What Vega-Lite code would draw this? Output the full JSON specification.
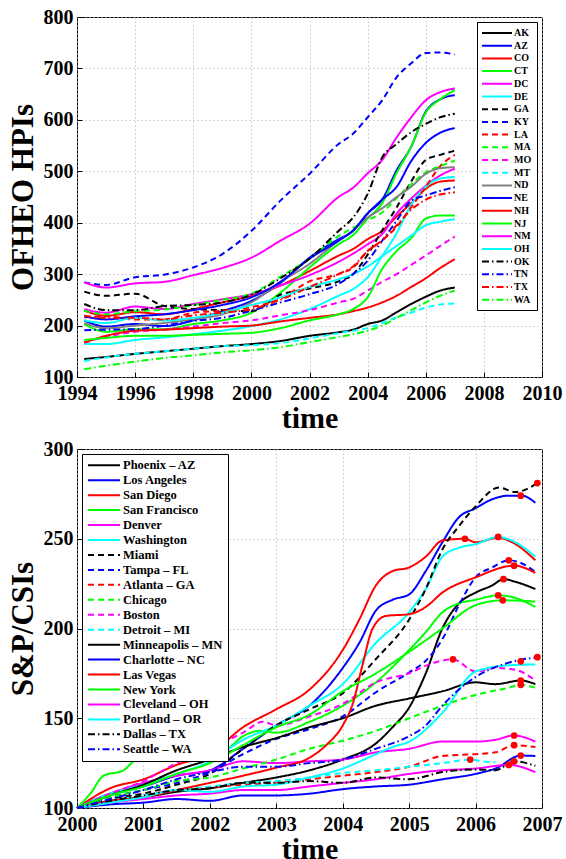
{
"$schema":"https://vega.github.io/schema/vega-lite/v6.json",
"background":"white",
"padding":{"left":6,"top":6,"right":5,"bottom":0},
"config":{
 "font":"Liberation Serif",
 "view":{"stroke":"black","strokeWidth":1},
 "axis":{"labelFont":"Liberation Serif","labelFontSize":20,"labelFontWeight":"bold","labelColor":"black","labelFlush":false,"labelOverlap":false,"titleFont":"Liberation Serif","titleFontWeight":"bold","titleColor":"black","grid":true,"gridColor":"#aaaaaa","gridDash":[1,3],"gridOpacity":1,"domain":false,"ticks":true,"tickSize":-5,"tickColor":"black","tickWidth":1},
 "axisX":{"labelPadding":11,"titleFontSize":30,"titlePadding":0},
 "axisY":{"labelPadding":9,"titleFontSize":31,"titlePadding":4},
 "legend":{"title":null,"strokeColor":"black","fillColor":"white","padding":5,"labelFont":"Liberation Serif","labelFontWeight":"bold","labelColor":"black"}
},
"datasets":{
"hpi":[
{"s":"AK","t":1994.25,"v":135},{"s":"AK","t":1995,"v":139},{"s":"AK","t":1996,"v":145},{"s":"AK","t":1997,"v":150},{"s":"AK","t":1998,"v":155},{"s":"AK","t":1999,"v":160},{"s":"AK","t":2000,"v":164},{"s":"AK","t":2001,"v":170},{"s":"AK","t":2002,"v":180},{"s":"AK","t":2003,"v":187},{"s":"AK","t":2003.5,"v":192},{"s":"AK","t":2004,"v":203},{"s":"AK","t":2004.5,"v":210},{"s":"AK","t":2005,"v":226},{"s":"AK","t":2005.5,"v":242},{"s":"AK","t":2006,"v":256},{"s":"AK","t":2006.5,"v":268},{"s":"AK","t":2007,"v":274},
{"s":"AZ","t":1994.25,"v":210},{"s":"AZ","t":1995,"v":198},{"s":"AZ","t":1996,"v":203},{"s":"AZ","t":1997,"v":199},{"s":"AZ","t":1998,"v":210},{"s":"AZ","t":1999,"v":228},{"s":"AZ","t":2000,"v":248},{"s":"AZ","t":2001,"v":283},{"s":"AZ","t":2002,"v":332},{"s":"AZ","t":2003,"v":368},{"s":"AZ","t":2003.5,"v":384},{"s":"AZ","t":2004,"v":418},{"s":"AZ","t":2004.5,"v":445},{"s":"AZ","t":2005,"v":502},{"s":"AZ","t":2005.5,"v":548},{"s":"AZ","t":2006,"v":616},{"s":"AZ","t":2006.5,"v":640},{"s":"AZ","t":2007,"v":648},
{"s":"CO","t":1994.25,"v":229},{"s":"CO","t":1995,"v":219},{"s":"CO","t":1996,"v":226},{"s":"CO","t":1997,"v":222},{"s":"CO","t":1998,"v":232},{"s":"CO","t":1999,"v":245},{"s":"CO","t":2000,"v":258},{"s":"CO","t":2001,"v":278},{"s":"CO","t":2002,"v":306},{"s":"CO","t":2003,"v":336},{"s":"CO","t":2003.5,"v":349},{"s":"CO","t":2004,"v":368},{"s":"CO","t":2004.5,"v":384},{"s":"CO","t":2005,"v":412},{"s":"CO","t":2005.5,"v":438},{"s":"CO","t":2006,"v":466},{"s":"CO","t":2006.5,"v":480},{"s":"CO","t":2007,"v":482},
{"s":"CT","t":1994.25,"v":203},{"s":"CT","t":1995,"v":188},{"s":"CT","t":1996,"v":193},{"s":"CT","t":1997,"v":193},{"s":"CT","t":1998,"v":203},{"s":"CT","t":1999,"v":210},{"s":"CT","t":2000,"v":225},{"s":"CT","t":2001,"v":264},{"s":"CT","t":2002,"v":313},{"s":"CT","t":2003,"v":358},{"s":"CT","t":2003.5,"v":376},{"s":"CT","t":2004,"v":408},{"s":"CT","t":2004.5,"v":438},{"s":"CT","t":2005,"v":497},{"s":"CT","t":2005.5,"v":548},{"s":"CT","t":2006,"v":614},{"s":"CT","t":2006.5,"v":640},{"s":"CT","t":2007,"v":658},
{"s":"DC","t":1994.25,"v":232},{"s":"DC","t":1995,"v":225},{"s":"DC","t":1996,"v":237},{"s":"DC","t":1997,"v":232},{"s":"DC","t":1998,"v":242},{"s":"DC","t":1999,"v":251},{"s":"DC","t":2000,"v":261},{"s":"DC","t":2001,"v":278},{"s":"DC","t":2002,"v":298},{"s":"DC","t":2003,"v":324},{"s":"DC","t":2003.5,"v":340},{"s":"DC","t":2004,"v":358},{"s":"DC","t":2004.5,"v":378},{"s":"DC","t":2005,"v":418},{"s":"DC","t":2005.5,"v":447},{"s":"DC","t":2006,"v":472},{"s":"DC","t":2006.5,"v":492},{"s":"DC","t":2007,"v":505},
{"s":"DE","t":1994.25,"v":164},{"s":"DE","t":1995,"v":164},{"s":"DE","t":1996,"v":172},{"s":"DE","t":1997,"v":177},{"s":"DE","t":1998,"v":183},{"s":"DE","t":1999,"v":190},{"s":"DE","t":2000,"v":199},{"s":"DE","t":2001,"v":212},{"s":"DE","t":2002,"v":232},{"s":"DE","t":2003,"v":258},{"s":"DE","t":2003.5,"v":271},{"s":"DE","t":2004,"v":294},{"s":"DE","t":2004.5,"v":335},{"s":"DE","t":2005,"v":380},{"s":"DE","t":2005.5,"v":435},{"s":"DE","t":2006,"v":470},{"s":"DE","t":2006.5,"v":486},{"s":"DE","t":2007,"v":489},
{"s":"GA","t":1994.25,"v":266},{"s":"GA","t":1995,"v":258},{"s":"GA","t":1996,"v":262},{"s":"GA","t":1997,"v":238},{"s":"GA","t":1998,"v":232},{"s":"GA","t":1999,"v":230},{"s":"GA","t":2000,"v":228},{"s":"GA","t":2001,"v":260},{"s":"GA","t":2002,"v":272},{"s":"GA","t":2003,"v":286},{"s":"GA","t":2003.5,"v":300},{"s":"GA","t":2004,"v":338},{"s":"GA","t":2004.5,"v":385},{"s":"GA","t":2005,"v":430},{"s":"GA","t":2005.5,"v":480},{"s":"GA","t":2006,"v":522},{"s":"GA","t":2006.5,"v":532},{"s":"GA","t":2007,"v":540},
{"s":"KY","t":1994.25,"v":284},{"s":"KY","t":1995,"v":279},{"s":"KY","t":1996,"v":294},{"s":"KY","t":1997,"v":299},{"s":"KY","t":1998,"v":313},{"s":"KY","t":1999,"v":339},{"s":"KY","t":2000,"v":384},{"s":"KY","t":2001,"v":443},{"s":"KY","t":2002,"v":495},{"s":"KY","t":2003,"v":553},{"s":"KY","t":2003.5,"v":573},{"s":"KY","t":2004,"v":605},{"s":"KY","t":2004.5,"v":638},{"s":"KY","t":2005,"v":683},{"s":"KY","t":2005.5,"v":710},{"s":"KY","t":2006,"v":730},{"s":"KY","t":2006.5,"v":731},{"s":"KY","t":2007,"v":727},
{"s":"LA","t":1994.25,"v":216},{"s":"LA","t":1995,"v":218},{"s":"LA","t":1996,"v":212},{"s":"LA","t":1997,"v":212},{"s":"LA","t":1998,"v":225},{"s":"LA","t":1999,"v":229},{"s":"LA","t":2000,"v":236},{"s":"LA","t":2001,"v":252},{"s":"LA","t":2002,"v":286},{"s":"LA","t":2003,"v":300},{"s":"LA","t":2003.5,"v":313},{"s":"LA","t":2004,"v":345},{"s":"LA","t":2004.5,"v":366},{"s":"LA","t":2005,"v":392},{"s":"LA","t":2005.5,"v":430},{"s":"LA","t":2006,"v":470},{"s":"LA","t":2006.5,"v":510},{"s":"LA","t":2007,"v":532},
{"s":"MA","t":1994.25,"v":229},{"s":"MA","t":1995,"v":222},{"s":"MA","t":1996,"v":228},{"s":"MA","t":1997,"v":231},{"s":"MA","t":1998,"v":240},{"s":"MA","t":1999,"v":250},{"s":"MA","t":2000,"v":262},{"s":"MA","t":2001,"v":295},{"s":"MA","t":2002,"v":330},{"s":"MA","t":2003,"v":374},{"s":"MA","t":2003.5,"v":390},{"s":"MA","t":2004,"v":405},{"s":"MA","t":2004.5,"v":420},{"s":"MA","t":2005,"v":448},{"s":"MA","t":2005.5,"v":475},{"s":"MA","t":2006,"v":498},{"s":"MA","t":2006.5,"v":510},{"s":"MA","t":2007,"v":521},
{"s":"MO","t":1994.25,"v":167},{"s":"MO","t":1995,"v":178},{"s":"MO","t":1996,"v":188},{"s":"MO","t":1997,"v":192},{"s":"MO","t":1998,"v":198},{"s":"MO","t":1999,"v":205},{"s":"MO","t":2000,"v":210},{"s":"MO","t":2001,"v":220},{"s":"MO","t":2002,"v":230},{"s":"MO","t":2003,"v":245},{"s":"MO","t":2003.5,"v":252},{"s":"MO","t":2004,"v":268},{"s":"MO","t":2004.5,"v":285},{"s":"MO","t":2005,"v":300},{"s":"MO","t":2005.5,"v":318},{"s":"MO","t":2006,"v":336},{"s":"MO","t":2006.5,"v":355},{"s":"MO","t":2007,"v":373},
{"s":"MT","t":1994.25,"v":131},{"s":"MT","t":1995,"v":138},{"s":"MT","t":1996,"v":145},{"s":"MT","t":1997,"v":150},{"s":"MT","t":1998,"v":155},{"s":"MT","t":1999,"v":160},{"s":"MT","t":2000,"v":162},{"s":"MT","t":2001,"v":166},{"s":"MT","t":2002,"v":175},{"s":"MT","t":2003,"v":185},{"s":"MT","t":2003.5,"v":190},{"s":"MT","t":2004,"v":195},{"s":"MT","t":2004.5,"v":205},{"s":"MT","t":2005,"v":216},{"s":"MT","t":2005.5,"v":225},{"s":"MT","t":2006,"v":235},{"s":"MT","t":2006.5,"v":241},{"s":"MT","t":2007,"v":243},
{"s":"ND","t":1994.25,"v":205},{"s":"ND","t":1995,"v":195},{"s":"ND","t":1996,"v":200},{"s":"ND","t":1997,"v":205},{"s":"ND","t":1998,"v":212},{"s":"ND","t":1999,"v":222},{"s":"ND","t":2000,"v":245},{"s":"ND","t":2001,"v":285},{"s":"ND","t":2002,"v":320},{"s":"ND","t":2003,"v":365},{"s":"ND","t":2003.5,"v":385},{"s":"ND","t":2004,"v":410},{"s":"ND","t":2004.5,"v":428},{"s":"ND","t":2005,"v":450},{"s":"ND","t":2005.5,"v":470},{"s":"ND","t":2006,"v":495},{"s":"ND","t":2006.5,"v":506},{"s":"ND","t":2007,"v":508},
{"s":"NE","t":1994.25,"v":218},{"s":"NE","t":1995,"v":212},{"s":"NE","t":1996,"v":218},{"s":"NE","t":1997,"v":222},{"s":"NE","t":1998,"v":230},{"s":"NE","t":1999,"v":240},{"s":"NE","t":2000,"v":255},{"s":"NE","t":2001,"v":285},{"s":"NE","t":2002,"v":330},{"s":"NE","t":2003,"v":365},{"s":"NE","t":2003.5,"v":385},{"s":"NE","t":2004,"v":418},{"s":"NE","t":2004.5,"v":445},{"s":"NE","t":2005,"v":470},{"s":"NE","t":2005.5,"v":520},{"s":"NE","t":2006,"v":555},{"s":"NE","t":2006.5,"v":575},{"s":"NE","t":2007,"v":584},
{"s":"NH","t":1994.25,"v":167},{"s":"NH","t":1995,"v":180},{"s":"NH","t":1996,"v":190},{"s":"NH","t":1997,"v":192},{"s":"NH","t":1998,"v":195},{"s":"NH","t":1999,"v":198},{"s":"NH","t":2000,"v":200},{"s":"NH","t":2001,"v":208},{"s":"NH","t":2002,"v":215},{"s":"NH","t":2003,"v":222},{"s":"NH","t":2003.5,"v":228},{"s":"NH","t":2004,"v":235},{"s":"NH","t":2004.5,"v":245},{"s":"NH","t":2005,"v":258},{"s":"NH","t":2005.5,"v":275},{"s":"NH","t":2006,"v":292},{"s":"NH","t":2006.5,"v":312},{"s":"NH","t":2007,"v":329},
{"s":"NJ","t":1994.25,"v":172},{"s":"NJ","t":1995,"v":176},{"s":"NJ","t":1996,"v":180},{"s":"NJ","t":1997,"v":180},{"s":"NJ","t":1998,"v":182},{"s":"NJ","t":1999,"v":184},{"s":"NJ","t":2000,"v":186},{"s":"NJ","t":2001,"v":195},{"s":"NJ","t":2002,"v":210},{"s":"NJ","t":2003,"v":222},{"s":"NJ","t":2003.5,"v":232},{"s":"NJ","t":2004,"v":255},{"s":"NJ","t":2004.5,"v":310},{"s":"NJ","t":2005,"v":345},{"s":"NJ","t":2005.5,"v":370},{"s":"NJ","t":2006,"v":408},{"s":"NJ","t":2006.5,"v":414},{"s":"NJ","t":2007,"v":414},
{"s":"NM","t":1994.25,"v":284},{"s":"NM","t":1995,"v":274},{"s":"NM","t":1996,"v":282},{"s":"NM","t":1997,"v":285},{"s":"NM","t":1998,"v":298},{"s":"NM","t":1999,"v":312},{"s":"NM","t":2000,"v":332},{"s":"NM","t":2001,"v":365},{"s":"NM","t":2002,"v":398},{"s":"NM","t":2003,"v":450},{"s":"NM","t":2003.5,"v":468},{"s":"NM","t":2004,"v":496},{"s":"NM","t":2004.5,"v":522},{"s":"NM","t":2005,"v":566},{"s":"NM","t":2005.5,"v":605},{"s":"NM","t":2006,"v":638},{"s":"NM","t":2006.5,"v":654},{"s":"NM","t":2007,"v":661},
{"s":"OH","t":1994.25,"v":210},{"s":"OH","t":1995,"v":205},{"s":"OH","t":1996,"v":215},{"s":"OH","t":1997,"v":210},{"s":"OH","t":1998,"v":215},{"s":"OH","t":1999,"v":225},{"s":"OH","t":2000,"v":240},{"s":"OH","t":2001,"v":255},{"s":"OH","t":2002,"v":275},{"s":"OH","t":2003,"v":290},{"s":"OH","t":2003.5,"v":300},{"s":"OH","t":2004,"v":315},{"s":"OH","t":2004.5,"v":335},{"s":"OH","t":2005,"v":355},{"s":"OH","t":2005.5,"v":375},{"s":"OH","t":2006,"v":395},{"s":"OH","t":2006.5,"v":402},{"s":"OH","t":2007,"v":407},
{"s":"OK","t":1994.25,"v":242},{"s":"OK","t":1995,"v":230},{"s":"OK","t":1996,"v":230},{"s":"OK","t":1997,"v":238},{"s":"OK","t":1998,"v":240},{"s":"OK","t":1999,"v":245},{"s":"OK","t":2000,"v":260},{"s":"OK","t":2001,"v":292},{"s":"OK","t":2002,"v":330},{"s":"OK","t":2003,"v":384},{"s":"OK","t":2003.5,"v":410},{"s":"OK","t":2004,"v":456},{"s":"OK","t":2004.5,"v":527},{"s":"OK","t":2005,"v":553},{"s":"OK","t":2005.5,"v":576},{"s":"OK","t":2006,"v":592},{"s":"OK","t":2006.5,"v":605},{"s":"OK","t":2007,"v":612},
{"s":"TN","t":1994.25,"v":191},{"s":"TN","t":1995,"v":192},{"s":"TN","t":1996,"v":193},{"s":"TN","t":1997,"v":200},{"s":"TN","t":1998,"v":209},{"s":"TN","t":1999,"v":215},{"s":"TN","t":2000,"v":229},{"s":"TN","t":2001,"v":245},{"s":"TN","t":2002,"v":261},{"s":"TN","t":2003,"v":281},{"s":"TN","t":2003.5,"v":300},{"s":"TN","t":2004,"v":326},{"s":"TN","t":2004.5,"v":365},{"s":"TN","t":2005,"v":404},{"s":"TN","t":2005.5,"v":443},{"s":"TN","t":2006,"v":453},{"s":"TN","t":2006.5,"v":462},{"s":"TN","t":2007,"v":469},
{"s":"TX","t":1994.25,"v":219},{"s":"TX","t":1995,"v":215},{"s":"TX","t":1996,"v":215},{"s":"TX","t":1997,"v":212},{"s":"TX","t":1998,"v":220},{"s":"TX","t":1999,"v":225},{"s":"TX","t":2000,"v":232},{"s":"TX","t":2001,"v":250},{"s":"TX","t":2002,"v":275},{"s":"TX","t":2003,"v":300},{"s":"TX","t":2003.5,"v":315},{"s":"TX","t":2004,"v":345},{"s":"TX","t":2004.5,"v":365},{"s":"TX","t":2005,"v":395},{"s":"TX","t":2005.5,"v":425},{"s":"TX","t":2006,"v":445},{"s":"TX","t":2006.5,"v":455},{"s":"TX","t":2007,"v":459},
{"s":"WA","t":1994.25,"v":115},{"s":"WA","t":1995,"v":122},{"s":"WA","t":1996,"v":130},{"s":"WA","t":1997,"v":137},{"s":"WA","t":1998,"v":142},{"s":"WA","t":1999,"v":148},{"s":"WA","t":2000,"v":152},{"s":"WA","t":2001,"v":158},{"s":"WA","t":2002,"v":168},{"s":"WA","t":2003,"v":178},{"s":"WA","t":2003.5,"v":183},{"s":"WA","t":2004,"v":190},{"s":"WA","t":2004.5,"v":200},{"s":"WA","t":2005,"v":215},{"s":"WA","t":2005.5,"v":230},{"s":"WA","t":2006,"v":245},{"s":"WA","t":2006.5,"v":258},{"s":"WA","t":2007,"v":268}
],
"csi":[
{"s":"Phoenix – AZ","t":2000,"v":100},{"s":"Phoenix – AZ","t":2000.5,"v":104},{"s":"Phoenix – AZ","t":2001,"v":106},{"s":"Phoenix – AZ","t":2001.5,"v":109},{"s":"Phoenix – AZ","t":2002,"v":111},{"s":"Phoenix – AZ","t":2002.5,"v":114},{"s":"Phoenix – AZ","t":2003,"v":117},{"s":"Phoenix – AZ","t":2003.5,"v":121},{"s":"Phoenix – AZ","t":2004,"v":127},{"s":"Phoenix – AZ","t":2004.5,"v":136},{"s":"Phoenix – AZ","t":2004.75,"v":145},{"s":"Phoenix – AZ","t":2005,"v":156},{"s":"Phoenix – AZ","t":2005.25,"v":175},{"s":"Phoenix – AZ","t":2005.5,"v":200},{"s":"Phoenix – AZ","t":2005.75,"v":214},{"s":"Phoenix – AZ","t":2006,"v":220},{"s":"Phoenix – AZ","t":2006.25,"v":224},{"s":"Phoenix – AZ","t":2006.42,"v":227.5},{"s":"Phoenix – AZ","t":2006.6,"v":226},{"s":"Phoenix – AZ","t":2006.9,"v":222},
{"s":"Los Angeles","t":2000,"v":100},{"s":"Los Angeles","t":2000.5,"v":108},{"s":"Los Angeles","t":2001,"v":112},{"s":"Los Angeles","t":2001.5,"v":118},{"s":"Los Angeles","t":2002,"v":121},{"s":"Los Angeles","t":2002.5,"v":133},{"s":"Los Angeles","t":2003,"v":146},{"s":"Los Angeles","t":2003.5,"v":157},{"s":"Los Angeles","t":2004,"v":178},{"s":"Los Angeles","t":2004.25,"v":192},{"s":"Los Angeles","t":2004.5,"v":210},{"s":"Los Angeles","t":2004.75,"v":216},{"s":"Los Angeles","t":2005,"v":219},{"s":"Los Angeles","t":2005.25,"v":232},{"s":"Los Angeles","t":2005.5,"v":248},{"s":"Los Angeles","t":2005.75,"v":262},{"s":"Los Angeles","t":2006,"v":267},{"s":"Los Angeles","t":2006.25,"v":272},{"s":"Los Angeles","t":2006.5,"v":274},{"s":"Los Angeles","t":2006.7,"v":274},{"s":"Los Angeles","t":2006.9,"v":270},
{"s":"San Diego","t":2000,"v":100},{"s":"San Diego","t":2000.5,"v":111},{"s":"San Diego","t":2001,"v":116},{"s":"San Diego","t":2001.5,"v":124},{"s":"San Diego","t":2002,"v":130},{"s":"San Diego","t":2002.5,"v":145},{"s":"San Diego","t":2003,"v":155},{"s":"San Diego","t":2003.5,"v":166},{"s":"San Diego","t":2004,"v":188},{"s":"San Diego","t":2004.25,"v":205},{"s":"San Diego","t":2004.5,"v":224},{"s":"San Diego","t":2004.75,"v":232},{"s":"San Diego","t":2005,"v":234},{"s":"San Diego","t":2005.25,"v":240},{"s":"San Diego","t":2005.5,"v":249},{"s":"San Diego","t":2005.84,"v":250},{"s":"San Diego","t":2006,"v":248},{"s":"San Diego","t":2006.34,"v":250.5},{"s":"San Diego","t":2006.6,"v":247},{"s":"San Diego","t":2006.9,"v":238},
{"s":"San Francisco","t":2000,"v":100},{"s":"San Francisco","t":2000.2,"v":108},{"s":"San Francisco","t":2000.4,"v":118},{"s":"San Francisco","t":2000.7,"v":121},{"s":"San Francisco","t":2000.9,"v":127},{"s":"San Francisco","t":2001.5,"v":130},{"s":"San Francisco","t":2002.25,"v":133},{"s":"San Francisco","t":2002.5,"v":140},{"s":"San Francisco","t":2002.75,"v":143},{"s":"San Francisco","t":2003,"v":142},{"s":"San Francisco","t":2003.5,"v":148},{"s":"San Francisco","t":2004,"v":157},{"s":"San Francisco","t":2004.5,"v":170},{"s":"San Francisco","t":2005,"v":188},{"s":"San Francisco","t":2005.25,"v":198},{"s":"San Francisco","t":2005.5,"v":209},{"s":"San Francisco","t":2005.75,"v":214},{"s":"San Francisco","t":2006,"v":216},{"s":"San Francisco","t":2006.34,"v":218.5},{"s":"San Francisco","t":2006.6,"v":217},{"s":"San Francisco","t":2006.9,"v":212},
{"s":"Denver","t":2000,"v":100},{"s":"Denver","t":2000.5,"v":108},{"s":"Denver","t":2001,"v":114},{"s":"Denver","t":2001.5,"v":118},{"s":"Denver","t":2002,"v":121},{"s":"Denver","t":2002.5,"v":126},{"s":"Denver","t":2003,"v":125},{"s":"Denver","t":2003.5,"v":126},{"s":"Denver","t":2004,"v":127},{"s":"Denver","t":2004.5,"v":131},{"s":"Denver","t":2005,"v":133},{"s":"Denver","t":2005.5,"v":137},{"s":"Denver","t":2006,"v":137},{"s":"Denver","t":2006.3,"v":138},{"s":"Denver","t":2006.58,"v":140.4},{"s":"Denver","t":2006.9,"v":137},
{"s":"Washington","t":2000,"v":100},{"s":"Washington","t":2000.5,"v":108},{"s":"Washington","t":2001,"v":113},{"s":"Washington","t":2001.5,"v":119},{"s":"Washington","t":2002,"v":126},{"s":"Washington","t":2002.5,"v":138},{"s":"Washington","t":2003,"v":146},{"s":"Washington","t":2003.5,"v":157},{"s":"Washington","t":2004,"v":169},{"s":"Washington","t":2004.5,"v":192},{"s":"Washington","t":2005,"v":209},{"s":"Washington","t":2005.25,"v":222},{"s":"Washington","t":2005.5,"v":240},{"s":"Washington","t":2005.75,"v":245},{"s":"Washington","t":2006,"v":247},{"s":"Washington","t":2006.34,"v":251},{"s":"Washington","t":2006.6,"v":248},{"s":"Washington","t":2006.9,"v":240},
{"s":"Miami","t":2000,"v":100},{"s":"Miami","t":2000.5,"v":105},{"s":"Miami","t":2001,"v":108},{"s":"Miami","t":2001.5,"v":113},{"s":"Miami","t":2002,"v":119},{"s":"Miami","t":2002.5,"v":133},{"s":"Miami","t":2003,"v":146},{"s":"Miami","t":2003.5,"v":155},{"s":"Miami","t":2004,"v":164},{"s":"Miami","t":2004.5,"v":183},{"s":"Miami","t":2005,"v":205},{"s":"Miami","t":2005.25,"v":222},{"s":"Miami","t":2005.5,"v":244},{"s":"Miami","t":2005.75,"v":257},{"s":"Miami","t":2006,"v":268},{"s":"Miami","t":2006.35,"v":278.5},{"s":"Miami","t":2006.6,"v":276},{"s":"Miami","t":2006.93,"v":281},
{"s":"Tampa – FL","t":2000,"v":100},{"s":"Tampa – FL","t":2000.5,"v":106},{"s":"Tampa – FL","t":2001,"v":110},{"s":"Tampa – FL","t":2001.5,"v":114},{"s":"Tampa – FL","t":2002,"v":120},{"s":"Tampa – FL","t":2002.5,"v":130},{"s":"Tampa – FL","t":2003,"v":138.5},{"s":"Tampa – FL","t":2003.5,"v":144},{"s":"Tampa – FL","t":2004,"v":151},{"s":"Tampa – FL","t":2004.5,"v":164.5},{"s":"Tampa – FL","t":2005,"v":175.5},{"s":"Tampa – FL","t":2005.25,"v":182},{"s":"Tampa – FL","t":2005.5,"v":194},{"s":"Tampa – FL","t":2005.75,"v":213},{"s":"Tampa – FL","t":2006,"v":228.5},{"s":"Tampa – FL","t":2006.25,"v":234},{"s":"Tampa – FL","t":2006.5,"v":238},{"s":"Tampa – FL","t":2006.65,"v":237},{"s":"Tampa – FL","t":2006.9,"v":231.5},
{"s":"Atlanta – GA","t":2000,"v":100},{"s":"Atlanta – GA","t":2000.5,"v":104},{"s":"Atlanta – GA","t":2001,"v":107},{"s":"Atlanta – GA","t":2001.5,"v":110},{"s":"Atlanta – GA","t":2002,"v":111.5},{"s":"Atlanta – GA","t":2002.5,"v":113},{"s":"Atlanta – GA","t":2003,"v":114},{"s":"Atlanta – GA","t":2003.5,"v":116},{"s":"Atlanta – GA","t":2004,"v":118},{"s":"Atlanta – GA","t":2004.5,"v":120},{"s":"Atlanta – GA","t":2005,"v":123},{"s":"Atlanta – GA","t":2005.5,"v":129},{"s":"Atlanta – GA","t":2006,"v":130},{"s":"Atlanta – GA","t":2006.3,"v":131},{"s":"Atlanta – GA","t":2006.58,"v":135},{"s":"Atlanta – GA","t":2006.9,"v":134},
{"s":"Chicago","t":2000,"v":100},{"s":"Chicago","t":2000.5,"v":106},{"s":"Chicago","t":2001,"v":110},{"s":"Chicago","t":2001.5,"v":115},{"s":"Chicago","t":2002,"v":117},{"s":"Chicago","t":2002.5,"v":122},{"s":"Chicago","t":2003,"v":127},{"s":"Chicago","t":2003.5,"v":133},{"s":"Chicago","t":2004,"v":137.5},{"s":"Chicago","t":2004.5,"v":143},{"s":"Chicago","t":2005,"v":150},{"s":"Chicago","t":2005.5,"v":157},{"s":"Chicago","t":2006,"v":163},{"s":"Chicago","t":2006.5,"v":167},{"s":"Chicago","t":2006.68,"v":168.6},{"s":"Chicago","t":2006.9,"v":167},
{"s":"Boston","t":2000,"v":100},{"s":"Boston","t":2000.5,"v":108},{"s":"Boston","t":2001,"v":115},{"s":"Boston","t":2001.5,"v":125},{"s":"Boston","t":2002,"v":133},{"s":"Boston","t":2002.5,"v":142},{"s":"Boston","t":2002.8,"v":148},{"s":"Boston","t":2003,"v":146},{"s":"Boston","t":2003.5,"v":151},{"s":"Boston","t":2004,"v":158},{"s":"Boston","t":2004.5,"v":170},{"s":"Boston","t":2005,"v":175},{"s":"Boston","t":2005.3,"v":180},{"s":"Boston","t":2005.66,"v":182.8},{"s":"Boston","t":2006,"v":176},{"s":"Boston","t":2006.3,"v":178},{"s":"Boston","t":2006.6,"v":177},{"s":"Boston","t":2006.9,"v":171},
{"s":"Detroit – MI","t":2000,"v":100},{"s":"Detroit – MI","t":2000.5,"v":104},{"s":"Detroit – MI","t":2001,"v":107},{"s":"Detroit – MI","t":2001.5,"v":110},{"s":"Detroit – MI","t":2002,"v":112},{"s":"Detroit – MI","t":2002.5,"v":114},{"s":"Detroit – MI","t":2003,"v":115},{"s":"Detroit – MI","t":2003.5,"v":117},{"s":"Detroit – MI","t":2004,"v":119.5},{"s":"Detroit – MI","t":2004.5,"v":121},{"s":"Detroit – MI","t":2005,"v":123},{"s":"Detroit – MI","t":2005.5,"v":125},{"s":"Detroit – MI","t":2005.92,"v":127},{"s":"Detroit – MI","t":2006.1,"v":126},{"s":"Detroit – MI","t":2006.3,"v":125.5},
{"s":"Minneapolis – MN","t":2000,"v":100},{"s":"Minneapolis – MN","t":2000.5,"v":107},{"s":"Minneapolis – MN","t":2001,"v":113},{"s":"Minneapolis – MN","t":2001.5,"v":121},{"s":"Minneapolis – MN","t":2002,"v":127},{"s":"Minneapolis – MN","t":2002.5,"v":134},{"s":"Minneapolis – MN","t":2003,"v":139},{"s":"Minneapolis – MN","t":2003.5,"v":145},{"s":"Minneapolis – MN","t":2004,"v":150},{"s":"Minneapolis – MN","t":2004.5,"v":157},{"s":"Minneapolis – MN","t":2005,"v":161},{"s":"Minneapolis – MN","t":2005.5,"v":165},{"s":"Minneapolis – MN","t":2006,"v":170},{"s":"Minneapolis – MN","t":2006.3,"v":169},{"s":"Minneapolis – MN","t":2006.68,"v":171},{"s":"Minneapolis – MN","t":2006.9,"v":169},
{"s":"Charlotte – NC","t":2000,"v":100},{"s":"Charlotte – NC","t":2000.5,"v":102},{"s":"Charlotte – NC","t":2001,"v":103},{"s":"Charlotte – NC","t":2001.5,"v":105},{"s":"Charlotte – NC","t":2002,"v":104},{"s":"Charlotte – NC","t":2002.5,"v":107},{"s":"Charlotte – NC","t":2003,"v":107},{"s":"Charlotte – NC","t":2003.5,"v":108},{"s":"Charlotte – NC","t":2004,"v":110.5},{"s":"Charlotte – NC","t":2004.5,"v":112},{"s":"Charlotte – NC","t":2005,"v":113},{"s":"Charlotte – NC","t":2005.5,"v":116},{"s":"Charlotte – NC","t":2006,"v":119},{"s":"Charlotte – NC","t":2006.3,"v":122},{"s":"Charlotte – NC","t":2006.68,"v":129.2},{"s":"Charlotte – NC","t":2006.9,"v":129},
{"s":"Las Vegas","t":2000,"v":100},{"s":"Las Vegas","t":2000.5,"v":104},{"s":"Las Vegas","t":2001,"v":106},{"s":"Las Vegas","t":2001.5,"v":110},{"s":"Las Vegas","t":2002,"v":114},{"s":"Las Vegas","t":2002.5,"v":118},{"s":"Las Vegas","t":2003,"v":122.5},{"s":"Las Vegas","t":2003.5,"v":128},{"s":"Las Vegas","t":2003.75,"v":135},{"s":"Las Vegas","t":2004,"v":146},{"s":"Las Vegas","t":2004.15,"v":158},{"s":"Las Vegas","t":2004.3,"v":180},{"s":"Las Vegas","t":2004.45,"v":200},{"s":"Las Vegas","t":2004.65,"v":207},{"s":"Las Vegas","t":2005,"v":208},{"s":"Las Vegas","t":2005.25,"v":212},{"s":"Las Vegas","t":2005.5,"v":220},{"s":"Las Vegas","t":2006,"v":228.5},{"s":"Las Vegas","t":2006.58,"v":235},{"s":"Las Vegas","t":2006.9,"v":231},
{"s":"New York","t":2000,"v":100},{"s":"New York","t":2000.5,"v":107},{"s":"New York","t":2001,"v":112},{"s":"New York","t":2001.5,"v":119},{"s":"New York","t":2002,"v":125},{"s":"New York","t":2002.5,"v":135},{"s":"New York","t":2003,"v":145},{"s":"New York","t":2003.5,"v":152},{"s":"New York","t":2004,"v":165},{"s":"New York","t":2004.5,"v":175},{"s":"New York","t":2005,"v":187},{"s":"New York","t":2005.5,"v":200},{"s":"New York","t":2006,"v":213},{"s":"New York","t":2006.41,"v":215.7},{"s":"New York","t":2006.9,"v":215},
{"s":"Cleveland – OH","t":2000,"v":100},{"s":"Cleveland – OH","t":2000.5,"v":103},{"s":"Cleveland – OH","t":2001,"v":105},{"s":"Cleveland – OH","t":2001.5,"v":107},{"s":"Cleveland – OH","t":2002,"v":108},{"s":"Cleveland – OH","t":2002.5,"v":110},{"s":"Cleveland – OH","t":2003,"v":110},{"s":"Cleveland – OH","t":2003.5,"v":112},{"s":"Cleveland – OH","t":2004,"v":114},{"s":"Cleveland – OH","t":2004.5,"v":116},{"s":"Cleveland – OH","t":2005,"v":119},{"s":"Cleveland – OH","t":2005.5,"v":121},{"s":"Cleveland – OH","t":2006,"v":122},{"s":"Cleveland – OH","t":2006.5,"v":124},{"s":"Cleveland – OH","t":2006.9,"v":120},
{"s":"Portland – OR","t":2000,"v":100},{"s":"Portland – OR","t":2000.5,"v":103},{"s":"Portland – OR","t":2001,"v":106},{"s":"Portland – OR","t":2001.5,"v":110},{"s":"Portland – OR","t":2002,"v":109},{"s":"Portland – OR","t":2002.5,"v":112},{"s":"Portland – OR","t":2003,"v":113},{"s":"Portland – OR","t":2003.5,"v":117},{"s":"Portland – OR","t":2004,"v":122},{"s":"Portland – OR","t":2004.5,"v":130},{"s":"Portland – OR","t":2004.75,"v":134},{"s":"Portland – OR","t":2005,"v":137},{"s":"Portland – OR","t":2005.5,"v":153},{"s":"Portland – OR","t":2006,"v":176},{"s":"Portland – OR","t":2006.5,"v":179.5},{"s":"Portland – OR","t":2006.9,"v":180},
{"s":"Dallas – TX","t":2000,"v":100},{"s":"Dallas – TX","t":2000.5,"v":104},{"s":"Dallas – TX","t":2001,"v":107},{"s":"Dallas – TX","t":2001.5,"v":110},{"s":"Dallas – TX","t":2002,"v":111},{"s":"Dallas – TX","t":2002.5,"v":114},{"s":"Dallas – TX","t":2003,"v":114},{"s":"Dallas – TX","t":2003.5,"v":115},{"s":"Dallas – TX","t":2004,"v":114},{"s":"Dallas – TX","t":2004.5,"v":117},{"s":"Dallas – TX","t":2005,"v":116},{"s":"Dallas – TX","t":2005.5,"v":120},{"s":"Dallas – TX","t":2006,"v":121.5},{"s":"Dallas – TX","t":2006.3,"v":121},{"s":"Dallas – TX","t":2006.58,"v":126},{"s":"Dallas – TX","t":2006.9,"v":123.5},
{"s":"Seattle – WA","t":2000,"v":100},{"s":"Seattle – WA","t":2000.5,"v":105},{"s":"Seattle – WA","t":2001,"v":110},{"s":"Seattle – WA","t":2001.5,"v":116},{"s":"Seattle – WA","t":2002,"v":120},{"s":"Seattle – WA","t":2002.5,"v":123},{"s":"Seattle – WA","t":2003,"v":123},{"s":"Seattle – WA","t":2003.5,"v":125},{"s":"Seattle – WA","t":2004,"v":127},{"s":"Seattle – WA","t":2004.5,"v":133},{"s":"Seattle – WA","t":2005,"v":140},{"s":"Seattle – WA","t":2005.25,"v":146},{"s":"Seattle – WA","t":2005.5,"v":157},{"s":"Seattle – WA","t":2006,"v":173},{"s":"Seattle – WA","t":2006.5,"v":181},{"s":"Seattle – WA","t":2006.93,"v":184}
],
"peaks":[
{"t":2006.93,"v":281},{"t":2006.68,"v":274},{"t":2005.84,"v":250},{"t":2006.34,"v":251},{"t":2006.5,"v":238},{"t":2006.58,"v":235},{"t":2006.42,"v":227.5},{"t":2006.34,"v":218.5},{"t":2006.41,"v":215.7},{"t":2005.66,"v":182.8},{"t":2006.68,"v":181.7},{"t":2006.93,"v":184},{"t":2006.68,"v":171},{"t":2006.68,"v":168.6},{"t":2006.58,"v":140.4},{"t":2006.58,"v":135},{"t":2006.68,"v":129.2},{"t":2005.92,"v":127},{"t":2006.5,"v":124},{"t":2006.58,"v":126}
]
},
"spacing":4,
"resolve":{"scale":{"x":"independent","y":"independent","color":"independent","strokeDash":"independent","strokeWidth":"independent"},"legend":{"color":"independent","strokeDash":"independent","strokeWidth":"independent"}},
"vconcat":[
{
 "width":465,"height":360,
 "data":{"name":"hpi"},
 "mark":{"type":"line","interpolate":"monotone"},
 "encoding":{
  "x":{"field":"t","type":"quantitative","scale":{"domain":[1994,2010],"nice":false,"zero":false},"axis":{"values":[1994,1996,1998,2000,2002,2004,2006,2008,2010],"format":"d","title":"time"}},
  "y":{"field":"v","type":"quantitative","scale":{"domain":[100,800],"nice":false,"zero":false},"axis":{"values":[100,200,300,400,500,600,700,800],"title":"OFHEO HPIs"}},
  "color":{"field":"s","type":"nominal","scale":{"domain":["AK","AZ","CO","CT","DC","DE","GA","KY","LA","MA","MO","MT","ND","NE","NH","NJ","NM","OH","OK","TN","TX","WA"],"range":["#000000","#0000ff","#ff0000","#00ff00","#ff00ff","#00ffff","#000000","#0000ff","#ff0000","#00ff00","#ff00ff","#00ffff","#808080","#0000ff","#ff0000","#00ff00","#ff00ff","#00ffff","#000000","#0000ff","#ff0000","#00ff00"]},"legend":{"orient":"top-right","offset":5,"labelFontSize":10,"symbolType":"M-3,0H3","symbolSize":100,"symbolOffset":9,"labelOffset":11,"rowPadding":1.7}},
  "strokeDash":{"field":"s","type":"nominal","scale":{"domain":["AK","AZ","CO","CT","DC","DE","GA","KY","LA","MA","MO","MT","ND","NE","NH","NJ","NM","OH","OK","TN","TX","WA"],"range":[[1,0],[1,0],[1,0],[1,0],[1,0],[1,0],[6,4],[6,4],[6,4],[6,4],[6,4],[6,4],[1,0],[1,0],[1,0],[1,0],[1,0],[1,0],[7,3,1.5,3],[7,3,1.5,3],[7,3,1.5,3],[7,3,1.5,3]]},"legend":{"orient":"top-right","offset":5,"labelFontSize":10,"symbolType":"M-3,0H3","symbolSize":100,"symbolOffset":9,"labelOffset":11,"rowPadding":1.7}},
  "strokeWidth":{"field":"s","type":"nominal","scale":{"domain":["AK","AZ","CO","CT","DC","DE","GA","KY","LA","MA","MO","MT","ND","NE","NH","NJ","NM","OH","OK","TN","TX","WA"],"range":[2,2,2,2,2,2,2,2,2,2,2,2,1.5,1,1,1,1,1,2,2,2,2]},"legend":{"orient":"top-right","offset":5,"labelFontSize":10,"symbolType":"M-3,0H3","symbolSize":100,"symbolOffset":9,"labelOffset":11,"rowPadding":1.7}}
 }
},
{
 "width":465,"height":359,
 "layer":[
 {
  "data":{"name":"csi"},
  "mark":{"type":"line","interpolate":"monotone"},
  "encoding":{
   "x":{"field":"t","type":"quantitative","scale":{"domain":[2000,2007],"nice":false,"zero":false},"axis":{"values":[2000,2001,2002,2003,2004,2005,2006,2007],"format":"d","title":"time"}},
   "y":{"field":"v","type":"quantitative","scale":{"domain":[100,300],"nice":false,"zero":false},"axis":{"values":[100,150,200,250,300],"title":"S&P/CSIs"}},
   "color":{"field":"s","type":"nominal","scale":{"domain":["Phoenix – AZ","Los Angeles","San Diego","San Francisco","Denver","Washington","Miami","Tampa – FL","Atlanta – GA","Chicago","Boston","Detroit – MI","Minneapolis – MN","Charlotte – NC","Las Vegas","New York","Cleveland – OH","Portland – OR","Dallas – TX","Seattle – WA"],"range":["#000000","#0000ff","#ff0000","#00ff00","#ff00ff","#00ffff","#000000","#0000ff","#ff0000","#00ff00","#ff00ff","#00ffff","#000000","#0000ff","#ff0000","#00ff00","#ff00ff","#00ffff","#000000","#0000ff"]},"legend":{"orient":"top-left","offset":5,"labelFontSize":12.5,"symbolType":"M-3.2,0H3.2","symbolSize":100,"symbolOffset":10.75,"labelOffset":12.75,"rowPadding":1.95}},
   "strokeDash":{"field":"s","type":"nominal","scale":{"domain":["Phoenix – AZ","Los Angeles","San Diego","San Francisco","Denver","Washington","Miami","Tampa – FL","Atlanta – GA","Chicago","Boston","Detroit – MI","Minneapolis – MN","Charlotte – NC","Las Vegas","New York","Cleveland – OH","Portland – OR","Dallas – TX","Seattle – WA"],"range":[[1,0],[1,0],[1,0],[1,0],[1,0],[1,0],[6,4],[6,4],[6,4],[6,4],[6,4],[6,4],[1,0],[1,0],[1,0],[1,0],[1,0],[1,0],[7,3,1.5,3],[7,3,1.5,3]]},"legend":{"orient":"top-left","offset":5,"labelFontSize":12.5,"symbolType":"M-3.2,0H3.2","symbolSize":100,"symbolOffset":10.75,"labelOffset":12.75,"rowPadding":1.95}},
   "strokeWidth":{"field":"s","type":"nominal","scale":{"domain":["Phoenix – AZ","Los Angeles","San Diego","San Francisco","Denver","Washington","Miami","Tampa – FL","Atlanta – GA","Chicago","Boston","Detroit – MI","Minneapolis – MN","Charlotte – NC","Las Vegas","New York","Cleveland – OH","Portland – OR","Dallas – TX","Seattle – WA"],"range":[2,2,2,2,2,2,2,2,2,2,2,2,1,1,1,1,1,1,2,2]},"legend":{"orient":"top-left","offset":5,"labelFontSize":12.5,"symbolType":"M-3.2,0H3.2","symbolSize":100,"symbolOffset":10.75,"labelOffset":12.75,"rowPadding":1.95}}
  }
 },
 {
  "data":{"name":"peaks"},
  "mark":{"type":"circle","color":"#ff0000","size":45,"opacity":1},
  "encoding":{
   "x":{"field":"t","type":"quantitative"},
   "y":{"field":"v","type":"quantitative"}
  }
 }
 ]
}
]
}
